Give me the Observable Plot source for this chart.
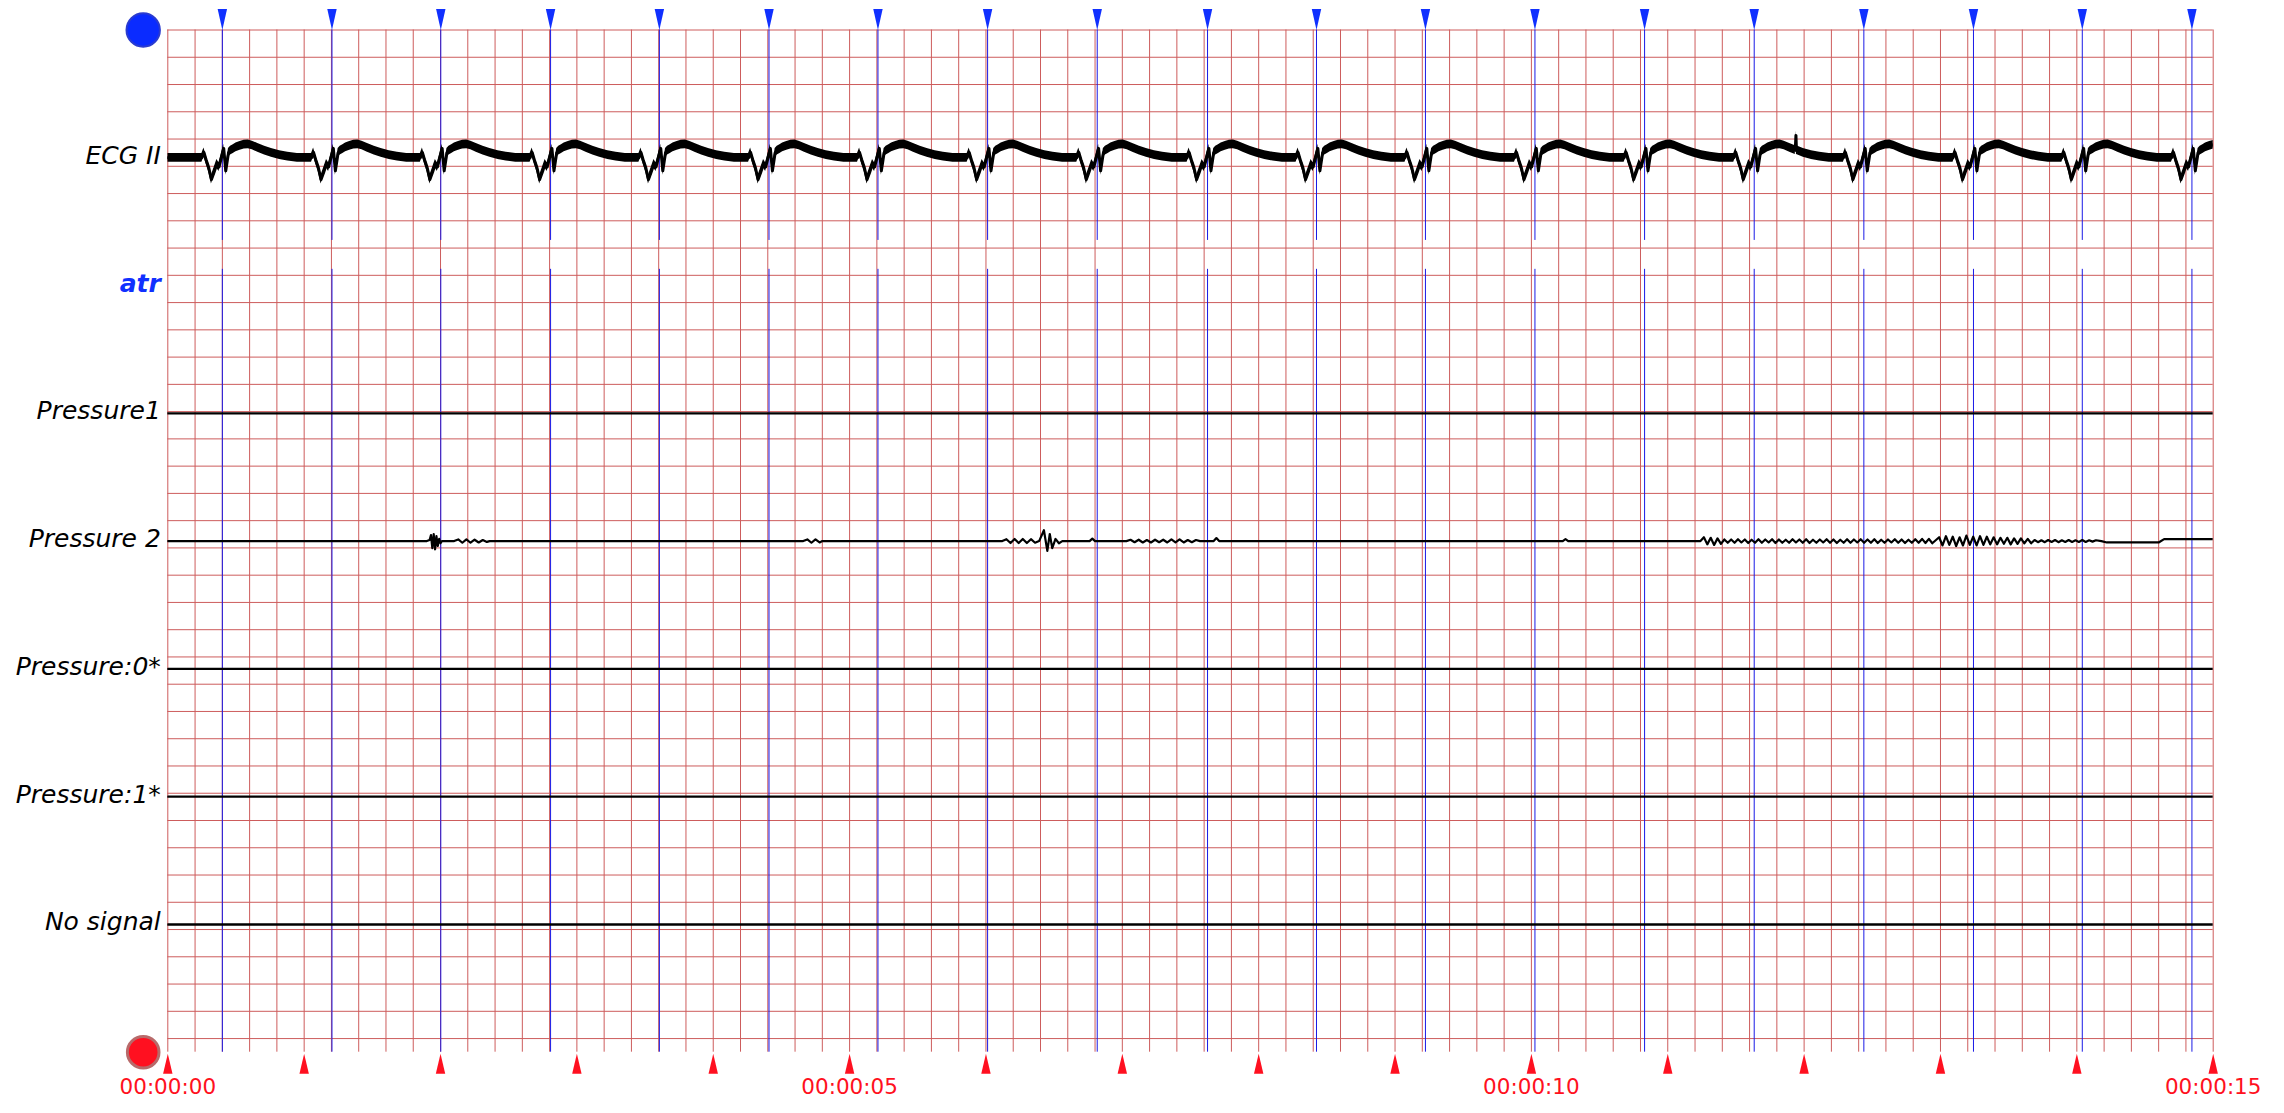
<!DOCTYPE html>
<html>
<head>
<meta charset="utf-8">
<script src="https://cdn.jsdelivr.net/npm/d3@7"></script>
<script src="https://cdn.jsdelivr.net/npm/@observablehq/plot@0.6"></script>
<style>
  html, body { margin: 0; padding: 0; background: #fff; overflow: hidden; }
  svg { display: block; }
</style>
</head>
<body>
<div id="chart"></div>
<script>
// ---------------- data ----------------
const channelNames = ["ECG II", "atr", "Pressure1", "Pressure 2", "Pressure:0*", "Pressure:1*", "No signal"];
const channelRows  = [1, 2, 3, 4, 5, 6, 7];            // row index of each channel (8 equal bands)

// beat annotation times (s) – blue markers
const beatTimes = [0.400, 1.204, 2.002, 2.807, 3.605, 4.409, 5.208, 6.012, 6.816, 7.625,
                   8.424, 9.223, 10.026, 10.830, 11.634, 12.438, 13.242, 14.040, 14.844];

// second marks (red triangles) and time labels
const secondMarks = [0,1,2,3,4,5,6,7,8,9,10,11,12,13,14,15];
const timeTicks = [0, 5, 10, 15];
const timeTickLabels = ["00:00:00", "00:00:05", "00:00:10", "00:00:15"];

// one ECG II beat: offset from annotation (s), value (mV)
const beatOffsets = [-0.25, -0.15, -0.135, -0.12, -0.10, -0.08, -0.06, -0.04, -0.025, -0.01,
                      0.01, 0.025, 0.045, 0.06, 0.08, 0.10, 0.13, 0.16, 0.19, 0.22, 0.26, 0.31, 0.36, 0.42, 0.48, 0.55];
const beatShape   = [ 0.00,  0.00,  0.10, -0.03, -0.18, -0.40, -0.26, -0.11, -0.17, -0.03,
                      0.17, -0.24,  0.09,  0.13, 0.16, 0.19, 0.22, 0.24, 0.245, 0.225, 0.18, 0.13, 0.09, 0.05, 0.02, 0.00];
const ecgStart = [[0, 0.00]];
// isolated artefact spike in ECG II (time s, mV)
const ecgArtifacts = [[11.935, 0.14], [11.940, 0.41], [11.945, 0.14]];

// Pressure 2: explicit points (time s, value)
const p2Points = [
  [0,0],[1.90,0],[1.92,0.02],[1.93,0.11],[1.94,-0.13],[1.95,0.13],[1.96,-0.15],[1.97,0.09],[1.98,-0.09],[1.99,0.04],[2.00,-0.04],[2.01,0],
  [2.10,0],[2.13,0.03],[2.16,-0.03],[2.19,0.03],[2.22,-0.03],[2.25,0.025],[2.28,-0.025],[2.31,0.02],[2.34,-0.015],[2.36,0],
  [4.66,0],[4.69,0.03],[4.72,-0.03],[4.75,0.03],[4.78,-0.025],[4.80,0],
  [6.12,0],[6.15,0.035],[6.18,-0.035],[6.21,0.04],[6.24,-0.035],[6.27,0.04],[6.30,-0.035],[6.33,0.035],[6.36,-0.03],[6.39,0],
  [6.425,0.20],[6.45,-0.18],[6.468,0.13],[6.486,-0.13],[6.51,0.04],[6.535,-0.04],[6.56,0],
  [6.76,0],[6.78,0.045],[6.80,0],
  [7.03,0],[7.06,0.025],[7.09,-0.02],[7.12,0.025],[7.15,-0.025],[7.18,0.02],[7.21,-0.025],[7.24,0.025],[7.27,-0.02],[7.30,0.025],
  [7.33,-0.025],[7.36,0.03],[7.39,-0.025],[7.42,0.03],[7.45,-0.025],[7.48,0.02],[7.51,-0.02],[7.54,0.02],[7.57,0],
  [7.67,0],[7.69,0.055],[7.71,0],
  [10.23,0],[10.25,0.035],[10.27,0],
  [11.24,0],[11.265,0.07],[11.29,-0.06],[11.315,0.06],[11.34,-0.07],[11.365,0.05],[11.39,-0.05],[11.415,0.03],[11.44,-0.03]
];
// Pressure 2: dense wiggle stretches (start s, sample step s, values)
const p2Wiggles = [
  {start: 11.465, step: 0.025, values: [0.03,-0.03,0.035,-0.025,0.03,-0.035,0.025,-0.03,0.035,-0.03,0.03,-0.025,0.035,-0.035,0.03,-0.03,0.025,-0.03,0.035,-0.025,
                                        0.03,-0.03,0.035,-0.035,0.025,-0.03,0.03,-0.025,0.035,-0.03,0.03,-0.035,0.025,-0.03,0.035,-0.03,0.03,-0.025,0.035,-0.03,
                                        0.03,-0.03,0.035,-0.035,0.025,-0.03,0.03,-0.025,0.035,-0.03,0.03,-0.035,0.025,-0.03,0.035,-0.03,0.04,-0.035,0.04,-0.04]},
  {start: 12.99, step: 0.025, values: [0.07,-0.08,0.09,-0.07,0.08,-0.09,0.07,-0.08,0.10,-0.07,0.08,-0.08,0.09,-0.07,0.08,-0.06,0.07,-0.06,0.06,-0.05,
                                       0.06,-0.06,0.05,-0.05,0.05,-0.04,0.04,-0.04]},
  {start: 13.69, step: 0.025, values: [0.02,-0.02,0.015,-0.02,0.02,-0.015,0.02,-0.02,0.015,-0.015,0.02,-0.015,0.015,-0.015,0.02,-0.015,0.015,-0.01,0.015]}
];
const p2Tail = [[14.18,0],[14.22,-0.025],[14.60,-0.025],[14.64,0.037],[15,0.037]];

// flat channels (time s, mV)
const pressure1Values = [[0, 0], [15, 0]];
const pressure0sValues = [[0, 0], [15, 0]];
const pressure1sValues = [[0, 0], [15, 0]];
const noSignalValues = [[0, 0], [15, 0]];

// ---------------- layout constants ----------------
const T_MAX = 15;
const CELLS_Y = 37.5;          // grid boxes top to bottom
const ROW = CELLS_Y / 8;       // spacing between channel baselines, in boxes
const GAIN = 2;                // boxes per mV
const GAP = [7.72, 8.78];      // interruption of annotation lines above "atr"
const GRID = "#cd5c5c";
const BLUE = "#1a1ae6";
const TRI_BLUE = "#1030ff";
const RED = "#ff1020";
const BAND = 0.08;             // half-thickness of the noisy ECG band (mV)

// ---------------- build series ----------------
const ecg = [];
for (const b of beatTimes) beatOffsets.forEach((o, i) => ecg.push({t: b + o, v: beatShape[i]}));
for (const [t, v] of ecgStart) ecg.push({t, v});
for (const [t, v] of ecgArtifacts) ecg.push({t, v});
ecg.sort((a, b) => a.t - b.t);

const p2 = p2Points.map(([t, v]) => ({t, v}));
for (const w of p2Wiggles) w.values.forEach((v, i) => p2.push({t: w.start + i * w.step, v}));
for (const [t, v] of p2Tail) p2.push({t, v});
p2.sort((a, b) => a.t - b.t);

const toObj = (arr, row, ch) => arr.map(([t, v]) => ({t, v, row, ch}));
const flat = [
  ...toObj(pressure1Values, 3, "p1"),
  ...toObj(pressure0sValues, 5, "p0s"),
  ...toObj(pressure1sValues, 6, "p1s"),
  ...toObj(noSignalValues, 7, "ns")
];

const gridX = d3.range(0, T_MAX + 1e-9, 0.2);
const gridY = d3.range(0, 38, 1);

const labels = channelNames.map((name, i) => ({name, row: channelRows[i]}));

const plot = Plot.plot({
  width: 2284,
  height: 1113,
  marginLeft: 167.3,
  marginRight: 71.3,
  marginTop: 29.5,
  marginBottom: 61.3,
  x: {domain: [0, T_MAX], axis: null},
  y: {domain: [0, CELLS_Y], reverse: true, axis: null},
  style: {background: "white", fontFamily: "DejaVu Sans"},
  marks: [
    // ECG paper grid
    Plot.ruleX(gridX, {x: d => d, y1: 0, y2: CELLS_Y, stroke: GRID, strokeWidth: 1}),
    Plot.ruleY(gridY, {y: d => d, x1: 0, x2: T_MAX, stroke: GRID, strokeWidth: 1}),
    // beat annotation lines
    Plot.ruleX(beatTimes, {x: d => d, y1: 0, y2: GAP[0], stroke: BLUE, strokeWidth: 1}),
    Plot.ruleX(beatTimes, {x: d => d, y1: GAP[1], y2: CELLS_Y, stroke: BLUE, strokeWidth: 1}),
    // ECG II: noisy band plus core line
    Plot.areaY(ecg, {x: "t", y1: d => ROW - (d.v + BAND) * GAIN, y2: d => ROW - (d.v - BAND) * GAIN,
                     fill: "black", clip: true}),
    Plot.line(ecg, {x: "t", y: d => ROW - d.v * GAIN, stroke: "black", strokeWidth: 3, clip: true}),
    // Pressure 2
    Plot.line(p2, {x: "t", y: d => 4 * ROW - d.v * GAIN, stroke: "black", strokeWidth: 2.2, clip: true}),
    // flat channels
    Plot.line(flat, {x: "t", y: d => d.row * ROW - d.v * GAIN, z: "ch", stroke: "black",
                     strokeWidth: 2.4, clip: true}),
    // blue beat triangles at top
    Plot.vector(beatTimes, {x: d => d, y: 0, shape: "spike", anchor: "end", rotate: 180, length: 21, r: 4.7,
                            fill: TRI_BLUE, stroke: "none"}),
    // red second triangles at bottom
    Plot.vector(secondMarks, {x: d => d, y: CELLS_Y, dy: 1.5, shape: "spike", anchor: "end", rotate: 0, length: 20, r: 4.7,
                              fill: RED, stroke: "none"}),
    // circles
    Plot.dot([{t: 0, c: 0}], {x: "t", y: "c", dx: -24.6, r: 16.7, fill: "#0a2bff", stroke: "#2a3bd0", strokeWidth: 2}),
    Plot.dot([{t: 0, c: CELLS_Y}], {x: "t", y: "c", dx: -24.6, r: 15.8, fill: RED, stroke: "#b86a6a", strokeWidth: 3}),
    // channel labels
    Plot.text(labels.filter(d => d.name !== "atr"), {x: 0, y: d => d.row * ROW, text: "name", textAnchor: "end",
                     dx: -7, dy: -2, fontSize: 25, fontStyle: "italic", fill: "black"}),
    Plot.text(labels.filter(d => d.name === "atr"), {x: 0, y: d => d.row * ROW, text: "name", textAnchor: "end",
                     dx: -7, dy: -2, fontSize: 25, fontStyle: "italic", fontWeight: "bold", fill: TRI_BLUE}),
    // time labels
    Plot.text(timeTicks, {x: d => d, y: CELLS_Y, text: (d, i) => timeTickLabels[i], dy: 34.9,
                          fontSize: 21.5, fill: RED, textAnchor: "middle"})
  ]
});
document.getElementById("chart").appendChild(plot);
</script>
</body>
</html>
